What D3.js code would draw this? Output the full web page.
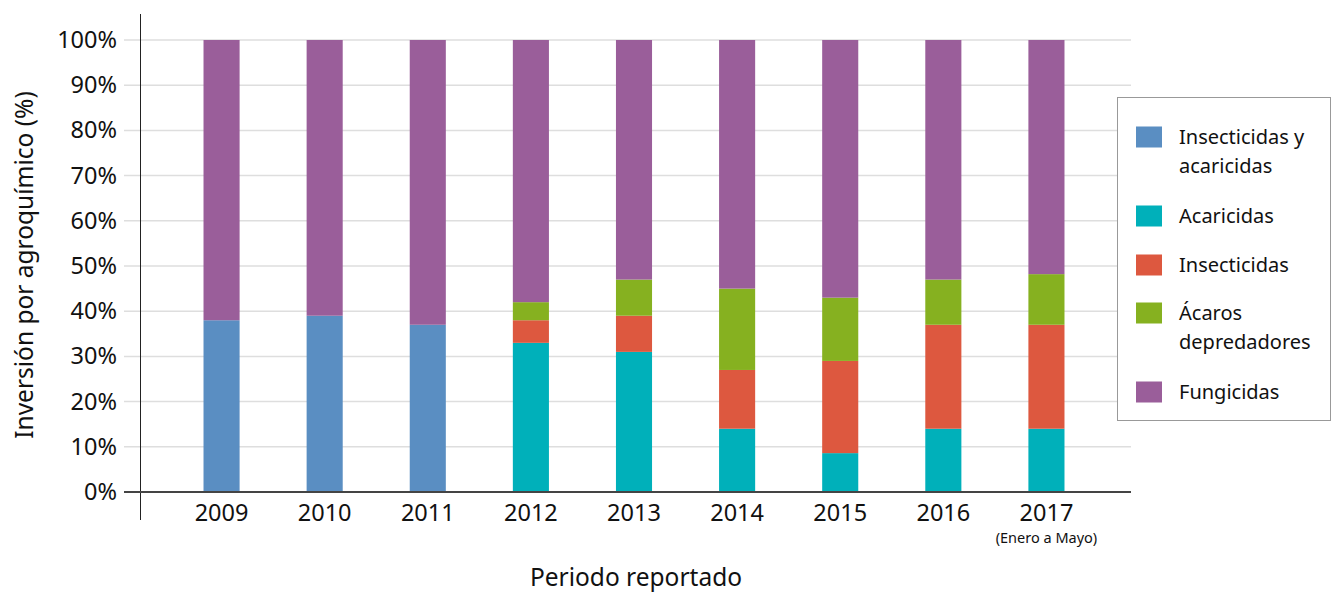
<!DOCTYPE html>
<html>
<head>
<meta charset="utf-8">
<script src="https://cdn.jsdelivr.net/npm/d3@7"></script>
<style>
  body { margin: 0; background: #fff; }
  svg { font-family: "Noto Sans", sans-serif; }
</style>
</head>
<body>
<div id="chart"></div>
<script>
// Data (percent of investment per agrochemical type)
const years = ["2009", "2010", "2011", "2012", "2013", "2014", "2015", "2016", "2017"];
const insecticidasYAcaricidas = [38, 39, 37, 0, 0, 0, 0, 0, 0];
const acaricidas = [0, 0, 0, 33, 31, 14, 8.6, 14, 14];
const insecticidas = [0, 0, 0, 5, 8, 13, 20.4, 23, 23];
const acarosDepredadores = [0, 0, 0, 4, 8, 18, 14, 10, 11.2];
const fungicidas = [62, 61, 63, 58, 53, 55, 57, 53, 51.8];
const yTicks = [0, 10, 20, 30, 40, 50, 60, 70, 80, 90, 100];

const series = [
  { key: "iya", label: ["Insecticidas y", "acaricidas"], values: insecticidasYAcaricidas, color: "#5a8ec2" },
  { key: "aca", label: ["Acaricidas"], values: acaricidas, color: "#00b0ba" },
  { key: "ins", label: ["Insecticidas"], values: insecticidas, color: "#dd583f" },
  { key: "dep", label: ["Ácaros", "depredadores"], values: acarosDepredadores, color: "#86b120" },
  { key: "fun", label: ["Fungicidas"], values: fungicidas, color: "#9a5e9a" }
];

const W = 1332, H = 592;
const svg = d3.select("#chart").append("svg")
  .attr("width", W)
  .attr("height", H);

// build table for stack
const table = years.map((y, i) => {
  const row = { year: y };
  series.forEach(s => row[s.key] = s.values[i]);
  return row;
});
const stacked = d3.stack().keys(series.map(s => s.key))(table);

// Scales
const x = d3.scaleBand().domain(years).range([170, 1098]).paddingInner(0.65).paddingOuter(0.325);
const y = d3.scaleLinear().domain([0, 100]).range([492, 40]);

// Gridlines
svg.append("g")
  .selectAll("line")
  .data(yTicks.filter(d => d > 0))
  .enter().append("line")
  .attr("x1", 124).attr("x2", 1131)
  .attr("y1", d => y(d)).attr("y2", d => y(d))
  .attr("stroke", "#dedede")
  .attr("stroke-width", 1.5);

// Bars
svg.append("g")
  .selectAll("g")
  .data(stacked)
  .enter().append("g")
  .attr("fill", (d, i) => series[i].color)
  .selectAll("rect")
  .data(d => d)
  .enter().append("rect")
  .attr("x", d => x(d.data.year))
  .attr("width", x.bandwidth())
  .attr("y", d => y(d[1]))
  .attr("height", d => y(d[0]) - y(d[1]));

// Y axis labels
const yAxis = svg.append("g")
  .attr("transform", "translate(124,0)")
  .call(d3.axisLeft(y).tickValues(yTicks).tickSize(0).tickPadding(7).tickFormat(d => d + "%"));
yAxis.select(".domain").remove();
yAxis.selectAll("text")
  .style("font-size", "23.5px")
  .attr("fill", "#111")
  .attr("font-family", "Noto Sans");

// Vertical axis line
svg.append("line")
  .attr("x1", 140.5).attr("x2", 140.5)
  .attr("y1", 14).attr("y2", 520)
  .attr("stroke", "#222").attr("stroke-width", 1);

// Baseline
svg.append("line")
  .attr("x1", 124).attr("x2", 1131)
  .attr("y1", y(0)).attr("y2", y(0))
  .attr("stroke", "#444").attr("stroke-width", 2);

// X axis labels
const xAxis = svg.append("g")
  .attr("transform", `translate(0, ${y(0)})`)
  .call(d3.axisBottom(x).tickSize(0).tickPadding(12));
xAxis.select(".domain").remove();
xAxis.selectAll("text")
  .style("font-size", "23.5px")
  .attr("fill", "#111")
  .attr("font-family", "Noto Sans");

svg.append("text")
  .attr("x", x("2017") + x.bandwidth() / 2)
  .attr("y", 543)
  .attr("text-anchor", "middle")
  .style("font-size", "14.5px")
  .attr("fill", "#111")
  .text("(Enero a Mayo)");

// Axis titles
svg.append("text")
  .attr("x", 636)
  .attr("y", 586)
  .attr("text-anchor", "middle")
  .style("font-size", "24.5px")
  .attr("fill", "#111")
  .text("Periodo reportado");

svg.append("text")
  .attr("transform", "translate(33, 265) rotate(-90)")
  .attr("text-anchor", "middle")
  .style("font-size", "24.5px")
  .attr("fill", "#111")
  .text("Inversión por agroquímico (%)");

// Legend
const legend = svg.append("g");
legend.append("rect")
  .attr("x", 1117.5).attr("y", 97.5)
  .attr("width", 213).attr("height", 323)
  .attr("fill", "#fff")
  .attr("stroke", "#999");

const swatchY = [137, 216, 265, 313, 392];
series.forEach((s, i) => {
  const cy = swatchY[i];
  legend.append("rect")
    .attr("x", 1136).attr("y", cy - 10.5)
    .attr("width", 26).attr("height", 21)
    .attr("fill", s.color);
  const t = legend.append("text")
    .attr("x", 1179)
    .attr("y", cy + 7)
    .style("font-size", "20px")
    .attr("fill", "#111");
  s.label.forEach((line, j) => {
    t.append("tspan").attr("x", 1179).attr("dy", j === 0 ? 0 : 29).text(line);
  });
});
</script>
</body>
</html>
